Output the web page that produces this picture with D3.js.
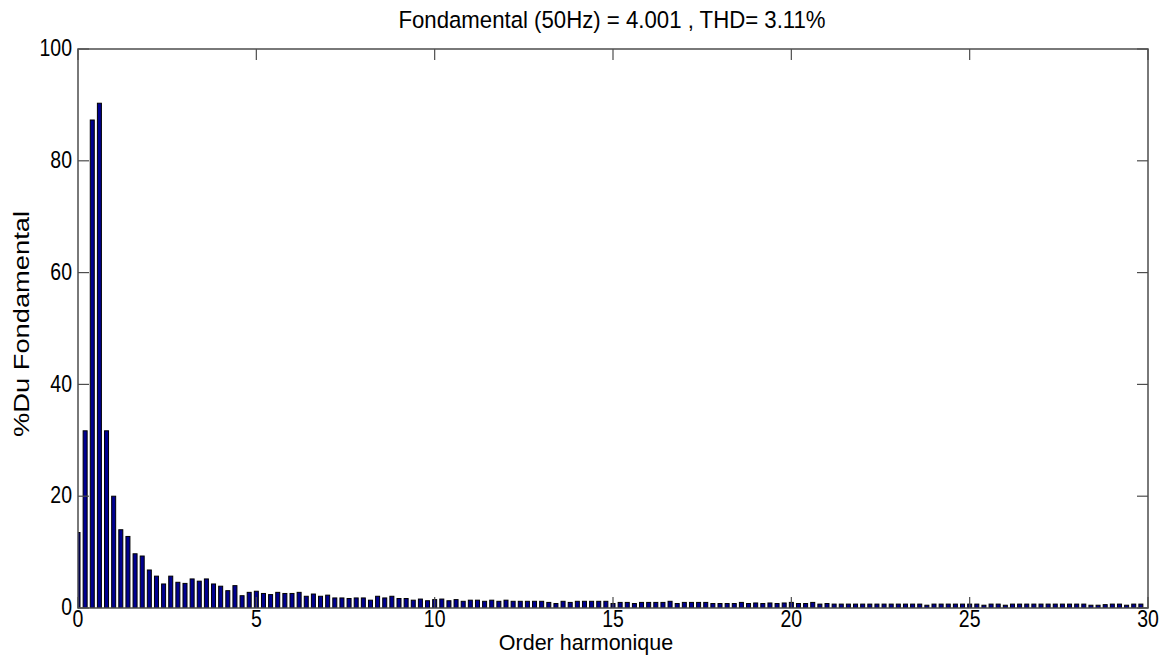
<!DOCTYPE html>
<html>
<head>
<meta charset="utf-8">
<script src="https://cdn.jsdelivr.net/npm/d3@7"></script>
<style>
  html, body { margin: 0; padding: 0; background: #fff; }
  svg { display: block; }
  text { font-family: "Liberation Sans", Arial, sans-serif; fill: #000; }
</style>
</head>
<body>
<script>
// Harmonic order positions (step 0.2) and magnitudes (% of fundamental)
const harmonicStep = 0.2;
const magnitudes = [
  13.5, 31.7, 87.3, 90.3, 31.7, 20.0, 14.0, 12.8, 9.7, 9.3,
  6.8, 5.7, 4.3, 5.7, 4.6, 4.4, 5.2, 4.8, 5.2, 4.3,
  3.9, 3.1, 4.0, 2.2, 2.8, 3.0, 2.6, 2.4, 2.8, 2.6,
  2.6, 2.8, 2.1, 2.5, 2.1, 2.3, 1.8, 1.8, 1.7, 1.8,
  1.8, 1.4, 2.1, 1.8, 2.1, 1.7, 1.7, 1.4, 1.6, 1.3,
  1.5, 1.6, 1.3, 1.5, 1.2, 1.4, 1.4, 1.2, 1.4, 1.2,
  1.4, 1.2, 1.2, 1.2, 1.2, 1.2, 1.0, 0.8, 1.2, 1.0,
  1.2, 1.2, 1.2, 1.2, 1.2, 0.8, 1.0, 1.0, 0.8, 1.0,
  1.0, 1.0, 1.0, 1.2, 0.8, 1.0, 1.0, 1.0, 1.0, 0.8,
  0.8, 0.8, 0.8, 1.0, 0.8, 0.9, 0.8, 0.9, 0.8, 0.9,
  1.0, 0.8, 0.8, 1.0, 0.7, 0.8, 0.7, 0.7, 0.7, 0.7,
  0.7, 0.7, 0.7, 0.7, 0.7, 0.7, 0.7, 0.7, 0.7, 0.5,
  0.7, 0.7, 0.7, 0.7, 0.7, 0.7, 0.7, 0.5, 0.7, 0.7,
  0.5, 0.7, 0.7, 0.7, 0.7, 0.7, 0.7, 0.7, 0.7, 0.7,
  0.7, 0.7, 0.5, 0.5, 0.6, 0.7, 0.7, 0.5, 0.7, 0.7
];
const orders = magnitudes.map((_, i) => +(i * harmonicStep).toFixed(1));
const xTicks = [0, 5, 10, 15, 20, 25, 30];
const yTicks = [0, 20, 40, 60, 80, 100];
const titleText = "Fondamental (50Hz) = 4.001 , THD= 3.11%";
const xLabel = "Order harmonique";
const yLabel = "%Du Fondamental";

const W = 1169, H = 656;
const mLeft = 78, mRight = 1148, mTop = 49, mBottom = 608;
const stretch = 1.2; // vertical stretch of text glyphs seen in the reference

const svg = d3.select("body").append("svg").attr("width", W).attr("height", H);

const x = d3.scaleLinear().domain([0, 30]).range([mLeft, mRight]);
const y = d3.scaleLinear().domain([0, 100]).range([mBottom, mTop]);

svg.append("clipPath").attr("id", "plotclip")
  .append("rect").attr("x", mLeft).attr("y", mTop).attr("width", mRight - mLeft).attr("height", mBottom - mTop);

const barW = 4;
svg.append("g").attr("clip-path", "url(#plotclip)")
  .selectAll("rect").data(orders).join("rect")
  .attr("x", (d) => x(d) - barW / 2)
  .attr("y", (d, i) => y(magnitudes[i]))
  .attr("width", barW)
  .attr("height", (d, i) => y(0) - y(magnitudes[i]))
  .attr("fill", "#000090")
  .attr("stroke", "#000")
  .attr("stroke-width", 1);

const axisColor = "#4d4d4d";
const tickLen = 11;
const fmt = d3.format("d");

// X tick labels
svg.append("g").selectAll("text").data(xTicks).join("text")
  .attr("transform", d => `translate(${x(d)},${mBottom + 13}) scale(1,${stretch})`)
  .attr("text-anchor", "middle")
  .attr("dominant-baseline", "middle")
  .attr("font-size", 19.5)
  .text(fmt);

// Y tick labels
svg.append("g").selectAll("text").data(yTicks).join("text")
  .attr("transform", d => `translate(${mLeft - 6},${y(d) + 1}) scale(1,${stretch})`)
  .attr("text-anchor", "end")
  .attr("dominant-baseline", "middle")
  .attr("font-size", 19.5)
  .text(fmt);

// Inward ticks on all four sides
const tg = svg.append("g").attr("stroke", axisColor).attr("stroke-width", 1.2);
xTicks.forEach(t => {
  tg.append("line").attr("x1", x(t)).attr("x2", x(t)).attr("y1", mBottom).attr("y2", mBottom - tickLen);
  tg.append("line").attr("x1", x(t)).attr("x2", x(t)).attr("y1", mTop).attr("y2", mTop + tickLen);
});
yTicks.forEach(t => {
  tg.append("line").attr("x1", mLeft).attr("x2", mLeft + tickLen).attr("y1", y(t)).attr("y2", y(t));
  tg.append("line").attr("x1", mRight).attr("x2", mRight - tickLen).attr("y1", y(t)).attr("y2", y(t));
});

// Box
svg.append("rect").attr("x", mLeft).attr("y", mTop).attr("width", mRight - mLeft).attr("height", mBottom - mTop)
  .attr("fill", "none").attr("stroke", axisColor).attr("stroke-width", 1.5);

// Title
svg.append("text").attr("transform", `translate(612,28) scale(1,1.05)`).attr("text-anchor", "middle")
  .attr("font-size", 22.2).text(titleText);

// X label
svg.append("text").attr("transform", `translate(586,650) scale(1,1.05)`).attr("text-anchor", "middle")
  .attr("font-size", 21.5).text(xLabel);

// Y label
svg.append("text").attr("transform", `translate(28.5,324) rotate(-90) scale(1,0.82)`)
  .attr("text-anchor", "middle").attr("font-size", 27.3).text(yLabel);
</script>
</body>
</html>
